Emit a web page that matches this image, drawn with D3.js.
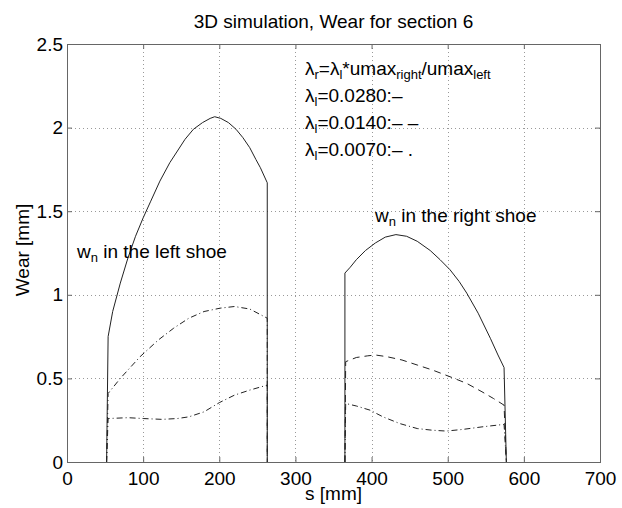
<!DOCTYPE html>
<html>
<head>
<meta charset="utf-8">
<script src="https://cdn.jsdelivr.net/npm/d3@7"></script>
<style>
  body { margin: 0; background: #fff; }
  text { font-family: "Liberation Sans", Arial, sans-serif; fill: #000; }
</style>
</head>
<body>
<svg id="chart" width="622" height="508"></svg>
<script>
// wear curves, [s (mm), wear (mm)]
let leftSolid = [[52,0],[54,0.75],[60,0.90],[70,1.07],[80,1.22],[90,1.35],[100,1.46],[110,1.56],[122,1.68],[135,1.79],[145,1.86],[155,1.93],[166,1.99],[178,2.03],[188,2.055],[194,2.065],[202,2.055],[212,2.03],[222,1.99],[231,1.94],[240,1.88],[248,1.81],[254,1.76],[263,1.67],[263,0]];
let leftMid = [[52,0],[54,0.41],[70,0.50],[96,0.63],[120,0.73],[140,0.80],[160,0.86],[180,0.90],[201,0.92],[220,0.93],[240,0.915],[263,0.86],[263,0]];
let leftLow = [[52,0],[54,0.26],[80,0.265],[100,0.26],[125,0.255],[145,0.26],[160,0.27],[180,0.30],[200,0.355],[220,0.40],[240,0.43],[263,0.46],[263,0]];
let rightSolid = [[365,0],[365,1.13],[372,1.165],[380,1.21],[392,1.265],[405,1.31],[418,1.345],[432,1.36],[446,1.35],[460,1.32],[477,1.265],[490,1.21],[503,1.15],[515,1.08],[525,1.01],[540,0.89],[556,0.74],[566,0.64],[574,0.565],[577,0]];
let rightMid = [[365,0],[366,0.60],[380,0.625],[395,0.635],[405,0.64],[420,0.63],[440,0.61],[460,0.58],[480,0.55],[503,0.51],[525,0.47],[545,0.42],[560,0.38],[574,0.34],[577,0]];
let rightLow = [[365,0],[366,0.35],[380,0.335],[398,0.31],[415,0.27],[437,0.23],[460,0.20],[480,0.19],[498,0.185],[520,0.195],[545,0.21],[574,0.225],[577,0]];

let xTicks = [0,100,200,300,400,500,600,700];
let yTicks = [0,0.5,1,1.5,2,2.5];

let svg = d3.select("#chart");
let pl = 67, pr = 600, pt = 44, pb = 462;
let fs = 19;

let x = d3.scaleLinear().domain([0,700]).range([pl,pr]);
let y = d3.scaleLinear().domain([0,2.5]).range([pb,pt]);

// grid
let grid = svg.append("g").attr("stroke","#999").attr("stroke-width",1).attr("stroke-dasharray","1,3");
grid.selectAll(".gx").data(xTicks.slice(1,-1)).enter().append("line")
    .attr("x1",d=>Math.round(x(d))+0.5).attr("x2",d=>Math.round(x(d))+0.5)
    .attr("y1",pt).attr("y2",pb);
grid.selectAll(".gy").data(yTicks.slice(1,-1)).enter().append("line")
    .attr("y1",d=>Math.round(y(d))+0.5).attr("y2",d=>Math.round(y(d))+0.5)
    .attr("x1",pl).attr("x2",pr);

// axes (ticks inward, MATLAB style)
let fmt = d => String(d);
svg.append("g").attr("transform","translate(0,"+pb+")")
    .call(d3.axisBottom(x).tickValues(xTicks).tickSize(-5).tickPadding(10).tickFormat(fmt));
svg.append("g").attr("transform","translate(0,"+pt+")")
    .call(d3.axisTop(x).tickValues(xTicks).tickSize(-5).tickFormat(""));
svg.append("g").attr("transform","translate("+pl+",0)")
    .call(d3.axisLeft(y).tickValues(yTicks).tickSize(-5).tickPadding(4).tickFormat(fmt));
svg.append("g").attr("transform","translate("+pr+",0)")
    .call(d3.axisRight(y).tickValues(yTicks).tickSize(-5).tickFormat(""));
svg.selectAll(".domain").remove();
svg.selectAll(".tick line").attr("stroke","#666");
svg.selectAll(".tick text").attr("font-size",fs).attr("fill","#000")
    .attr("font-family","Liberation Sans, Arial, sans-serif");
svg.append("rect").attr("x",pl+0.5).attr("y",pt+0.5)
    .attr("width",pr-pl).attr("height",pb-pt)
    .attr("fill","none").attr("stroke","#666").attr("stroke-width",1);

// curves
let line = d3.line().x(d=>x(d[0])).y(d=>y(d[1]));
let curves = [
  {data:leftSolid, dash:null},
  {data:leftMid, dash:"6,3,1,3"},
  {data:leftLow, dash:"6,3,1,3"},
  {data:rightSolid, dash:null},
  {data:rightMid, dash:"7,5"},
  {data:rightLow, dash:"6,3,1,3"}
];
svg.append("g").selectAll("path").data(curves).enter().append("path")
    .attr("d",d=>line(d.data)).attr("fill","none").attr("stroke","#222")
    .attr("stroke-width",1).attr("stroke-dasharray",d=>d.dash);

// labels
svg.append("text").attr("x",(pl+pr)/2).attr("y",28).attr("text-anchor","middle")
    .attr("font-size",fs).text("3D simulation, Wear for section 6");
svg.append("text").attr("x",(pl+pr)/2).attr("y",500).attr("text-anchor","middle")
    .attr("font-size",fs).text("s [mm]");
svg.append("text").attr("transform","translate(29,250) rotate(-90)")
    .attr("text-anchor","middle").attr("font-size",fs).text("Wear [mm]");

function richText(px, py, parts) {
  let t = svg.append("text").attr("x",px).attr("y",py).attr("font-size",fs);
  parts.forEach(p => {
    let s = t.append("tspan").text(p[0]);
    if (p[1]) s.attr("font-size",13).attr("baseline-shift","-30%");
  });
  return t;
}
richText(305,75,[["λ"],["r",1],["=λ"],["l",1],["*umax"],["right",1],["/umax"],["left",1]]);
richText(305,102,[["λ"],["l",1],["=0.0280:–"]]);
richText(305,129,[["λ"],["l",1],["=0.0140:– –"]]);
richText(305,156,[["λ"],["l",1],["=0.0070:– ."]]);
richText(77,258,[["w"],["n",1],[" in the left shoe"]]);
richText(375,222,[["w"],["n",1],[" in the right shoe"]]);
</script>
</body>
</html>
